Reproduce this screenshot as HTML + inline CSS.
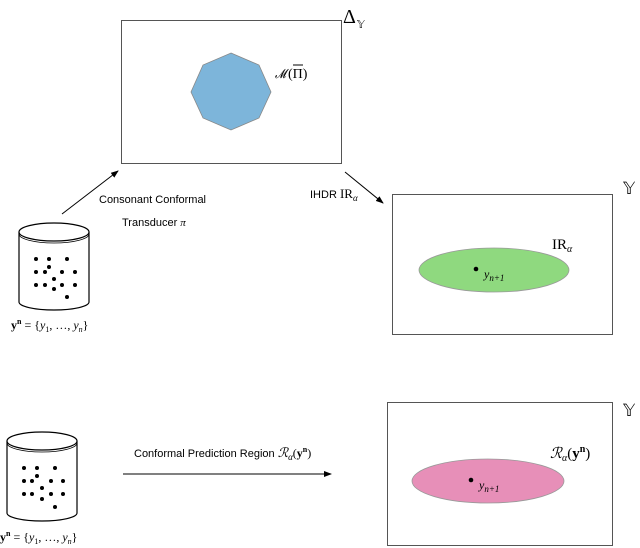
<!DOCTYPE html>
<html><head><style>
body{margin:0;background:#fff;}
svg{display:block;font-family:"Liberation Serif",serif;}
.s{font-family:"Liberation Sans",sans-serif;font-size:11px;}
</style></head><body>
<svg width="640" height="548" viewBox="0 0 640 548" xmlns="http://www.w3.org/2000/svg">
<defs><marker id="a" markerWidth="8" markerHeight="6" refX="7" refY="3" orient="auto"><path d="M0,0 L8,3 L0,6 Z" fill="#000"/></marker></defs>
<!-- top box -->
<rect x="121.5" y="20.5" width="220" height="143" fill="#fff" stroke="#555"/>
<polygon points="231,53 259,65 271,92 259,118 231,130 203,118 191,92 203,65" fill="#7db5da" stroke="#888" stroke-width="0.8"/>
<text x="275" y="78" font-size="13" font-style="italic" textLength="11" lengthAdjust="spacingAndGlyphs">𝓜</text><text x="288" y="78" font-size="14">(Π)</text>
<line x1="293" y1="65" x2="303" y2="65" stroke="#000" stroke-width="1"/>
<text x="343" y="23" font-size="20">Δ</text><text x="357" y="28" font-size="11">𝕐</text>
<!-- arrows -->
<line x1="62" y1="214" x2="118" y2="171" stroke="#000" marker-end="url(#a)"/>
<line x1="345" y1="172" x2="383" y2="203" stroke="#000" marker-end="url(#a)"/>
<text class="s" x="99" y="203">Consonant Conformal</text>
<text class="s" x="122" y="226">Transducer <tspan font-family="Liberation Serif" font-style="italic">π</tspan></text>
<text class="s" x="310" y="198">IHDR <tspan font-family="Liberation Serif" font-size="13">IR<tspan font-style="italic" font-size="9" dy="3">α</tspan></tspan></text>
<!-- right box -->
<rect x="392.5" y="194.5" width="220" height="140" fill="#fff" stroke="#555"/>
<ellipse cx="494" cy="270" rx="75" ry="22" fill="#8fd97f" stroke="#999" stroke-width="0.8"/>
<circle cx="476" cy="269" r="2.3" fill="#000"/>
<text x="484" y="278" font-size="12" font-style="italic">y<tspan font-size="9" dy="3">n+1</tspan></text>
<text x="552" y="249" font-size="15">IR<tspan font-style="italic" font-size="10" dy="3">α</tspan></text>
<text x="623" y="194" font-size="17">𝕐</text>
<!-- top cylinder -->
<path d="M19,232 L19,302 A35,8 0 0 0 89,302 L89,232" fill="#fff" stroke="#000" stroke-width="1.2"/>
<ellipse cx="54" cy="232" rx="35" ry="9" fill="#fff" stroke="#000" stroke-width="1.2"/>
<path d="M19,234 A35,9 0 0 0 89,234" fill="none" stroke="#000" stroke-width="0.8"/>
<g fill="#000">
<circle cx="36" cy="259" r="2"/><circle cx="49" cy="259" r="2"/><circle cx="67" cy="259" r="2"/><circle cx="49" cy="267" r="2"/>
<circle cx="36" cy="272" r="2"/><circle cx="45" cy="272" r="2"/><circle cx="62" cy="272" r="2"/><circle cx="75" cy="272" r="2"/>
<circle cx="54" cy="279" r="2"/><circle cx="36" cy="285" r="2"/><circle cx="45" cy="285" r="2"/><circle cx="54" cy="289" r="2"/>
<circle cx="62" cy="285" r="2"/><circle cx="75" cy="285" r="2"/><circle cx="67" cy="297" r="2"/>
</g>
<text x="11" y="329" font-size="12"><tspan font-weight="bold">y</tspan><tspan font-weight="bold" font-size="8" dy="-5">n</tspan><tspan dy="5"> = {</tspan><tspan font-style="italic">y</tspan><tspan font-size="8" dy="3">1</tspan><tspan dy="-3">, …, </tspan><tspan font-style="italic">y</tspan><tspan font-style="italic" font-size="8" dy="3">n</tspan><tspan dy="-3">}</tspan></text>
<!-- bottom cylinder -->
<path d="M7,441 L7,513 A35,8 0 0 0 77,513 L77,441" fill="#fff" stroke="#000" stroke-width="1.2"/>
<ellipse cx="42" cy="441" rx="35" ry="9" fill="#fff" stroke="#000" stroke-width="1.2"/>
<path d="M7,443 A35,9 0 0 0 77,443" fill="none" stroke="#000" stroke-width="0.8"/>
<g fill="#000">
<circle cx="24" cy="468" r="2"/><circle cx="37" cy="468" r="2"/><circle cx="55" cy="468" r="2"/><circle cx="37" cy="476" r="2"/>
<circle cx="24" cy="481" r="2"/><circle cx="32" cy="481" r="2"/><circle cx="51" cy="481" r="2"/><circle cx="63" cy="481" r="2"/>
<circle cx="42" cy="488" r="2"/><circle cx="24" cy="494" r="2"/><circle cx="32" cy="494" r="2"/><circle cx="42" cy="499" r="2"/>
<circle cx="51" cy="494" r="2"/><circle cx="63" cy="494" r="2"/><circle cx="55" cy="507" r="2"/>
</g>
<text x="0" y="541" font-size="12"><tspan font-weight="bold">y</tspan><tspan font-weight="bold" font-size="8" dy="-5">n</tspan><tspan dy="5"> = {</tspan><tspan font-style="italic">y</tspan><tspan font-size="8" dy="3">1</tspan><tspan dy="-3">, …, </tspan><tspan font-style="italic">y</tspan><tspan font-style="italic" font-size="8" dy="3">n</tspan><tspan dy="-3">}</tspan></text>
<!-- bottom arrow -->
<line x1="123" y1="474" x2="331" y2="474" stroke="#000" marker-end="url(#a)"/>
<text class="s" x="134" y="457">Conformal Prediction Region <tspan font-family="Liberation Serif" font-style="italic" font-size="13">ℛ</tspan><tspan font-family="Liberation Serif" font-style="italic" font-size="9" dy="3">α</tspan><tspan font-family="Liberation Serif" font-size="12" dy="-3">(</tspan><tspan font-family="Liberation Serif" font-weight="bold" font-size="12">y</tspan><tspan font-family="Liberation Serif" font-weight="bold" font-size="8" dy="-5">n</tspan><tspan font-family="Liberation Serif" font-size="12" dy="5">)</tspan></text>
<!-- bottom right box -->
<rect x="387.5" y="402.5" width="225" height="143" fill="#fff" stroke="#555"/>
<ellipse cx="488" cy="481" rx="76" ry="22" fill="#e78fb8" stroke="#999" stroke-width="0.8"/>
<circle cx="471" cy="480" r="2.3" fill="#000"/>
<text x="479" y="489" font-size="12" font-style="italic">y<tspan font-size="9" dy="3">n+1</tspan></text>
<text x="550" y="458" font-size="15"><tspan font-style="italic">ℛ</tspan><tspan font-style="italic" font-size="10" dy="3">α</tspan><tspan dy="-3">(</tspan><tspan font-weight="bold">y</tspan><tspan font-weight="bold" font-size="10" dy="-6">n</tspan><tspan dy="6">)</tspan></text>
<text x="623" y="416" font-size="17">𝕐</text>
</svg>
</body></html>
